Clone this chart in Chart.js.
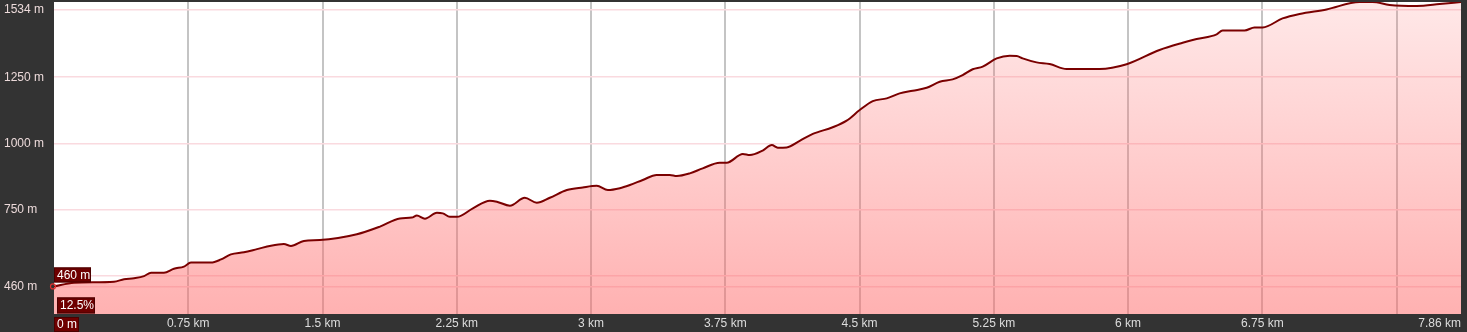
<!DOCTYPE html>
<html>
<head>
<meta charset="utf-8">
<title>Elevation profile</title>
<script src="https://cdn.jsdelivr.net/npm/chart.js@4/dist/chart.umd.min.js"></script>
<style>
  html, body { margin: 0; padding: 0; background: #333333; }
  #profile { display: block; }
</style>
</head>
<body>
<canvas id="profile" width="1467" height="332"></canvas>
<script>
// distance along the route (km) and elevation (m)
const distKm = [0, 0.112, 0.335, 0.391, 0.447, 0.503, 0.542, 0.614, 0.670, 0.726,
  0.765, 0.877, 0.933, 0.988, 1.061, 1.134, 1.212, 1.284, 1.324, 1.396,
  1.485, 1.692, 1.821, 1.932, 1.999, 2.027, 2.072, 2.139, 2.172, 2.211,
  2.251, 2.340, 2.435, 2.474, 2.547, 2.630, 2.697, 2.770, 2.865, 2.954,
  3.032, 3.094, 3.161, 3.217, 3.289, 3.367, 3.440, 3.479, 3.552, 3.624,
  3.719, 3.758, 3.848, 3.887, 3.959, 4.010, 4.043, 4.093, 4.166, 4.239,
  4.350, 4.428, 4.501, 4.574, 4.652, 4.724, 4.797, 4.875, 4.948, 5.020,
  5.076, 5.132, 5.188, 5.266, 5.339, 5.378, 5.411, 5.489, 5.562, 5.657,
  5.841, 5.992, 6.176, 6.305, 6.383, 6.495, 6.528, 6.651, 6.706, 6.752,
  6.863, 6.958, 7.109, 7.293, 7.366, 7.461, 7.612, 7.740, 7.860];

const elevM = [460, 474, 478, 487, 491, 499, 512, 512, 527, 535,
  550, 550, 562, 581, 589, 601, 614, 620, 613, 632,
  635, 657, 686, 717, 720, 728, 716, 738, 736, 723,
  723, 755, 784, 780, 765, 795, 776, 795, 824, 834,
  840, 824, 831, 843, 862, 881, 881, 877, 887, 906,
  927, 927, 960, 956, 973, 994, 984, 985, 1010, 1036,
  1061, 1086, 1126, 1160, 1170, 1189, 1199, 1210, 1233, 1242,
  1258, 1280, 1290, 1321, 1331, 1330, 1321, 1306, 1300, 1281,
  1281, 1299, 1353, 1380, 1394, 1412, 1426, 1426, 1438, 1438,
  1472, 1489, 1506, 1534, 1534, 1523, 1519, 1526, 1534];

// axis ticks
const xTickValues = [0, 0.75, 1.5, 2.25, 3, 3.75, 4.5, 5.25, 6, 6.75, 7.5, 7.86];
const xTickLabels = ['', '0.75 km', '1.5 km', '2.25 km', '3 km', '3.75 km', '4.5 km',
  '5.25 km', '6 km', '6.75 km', '', '7.86 km'];
const yTickValues = [460, 500, 750, 1000, 1250, 1505];
const yTickLabels = ['460 m', '', '750 m', '1000 m', '1250 m', '1534 m'];

// hover readout shown at the start point
const startGrade = '12.5%';

const FONT = 'Arial, "Liberation Sans", sans-serif';
Chart.defaults.font.family = FONT;
Chart.defaults.font.size = 12;

const points = distKm.map((d, i) => ({ x: d, y: elevM[i] }));

// white plot area on the dark canvas
const plotBackground = {
  id: 'plotBackground',
  beforeDraw(chart) {
    const { ctx, chartArea: a } = chart;
    ctx.save();
    ctx.fillStyle = '#ffffff';
    ctx.fillRect(a.left, a.top, a.right - a.left, a.bottom - a.top);
    ctx.restore();
  }
};

function tag(ctx, text, left, top, w, h) {
  ctx.fillStyle = '#6e0000';
  ctx.fillRect(left, top, w, h);
  ctx.strokeStyle = '#4a0000';
  ctx.lineWidth = 1;
  ctx.strokeRect(left + 0.5, top + 0.5, w - 1, h - 1);
  ctx.fillStyle = '#ffffff';
  ctx.textBaseline = 'middle';
  ctx.textAlign = 'left';
  ctx.fillText(text, left + 3, top + h / 2 + 0.5);
}

// start-point readout boxes + marker
const startReadout = {
  id: 'startReadout',
  afterDraw(chart) {
    const { ctx, scales, chartArea: a } = chart;
    const px = scales.x.getPixelForValue(distKm[0]);
    const py = scales.y.getPixelForValue(elevM[0]);
    ctx.save();
    ctx.font = '12px ' + FONT;
    tag(ctx, elevM[0] + ' m', px, py - 19, 37, 15);
    tag(ctx, startGrade, px + 3, py + 11, 38, 16);
    tag(ctx, distKm[0] + ' m', px, a.bottom + 3, 25, 15);
    ctx.strokeStyle = '#e03030';
    ctx.lineWidth = 1.2;
    ctx.beginPath();
    ctx.arc(px - 1, py, 2.5, 0, Math.PI * 2);
    ctx.stroke();
    ctx.restore();
  }
};

new Chart(document.getElementById('profile'), {
  type: 'line',
  data: {
    datasets: [{
      data: points,
      borderColor: '#7a0000',
      borderWidth: 2,
      pointRadius: 0,
      tension: 0.3,
      cubicInterpolationMode: 'monotone',
      fill: 'start',
      backgroundColor: (c) => {
        const a = c.chart.chartArea;
        if (!a) return 'rgba(255,120,120,0.4)';
        const g = c.chart.ctx.createLinearGradient(0, a.top, 0, a.bottom);
        g.addColorStop(0, 'rgba(255,110,110,0.16)');
        g.addColorStop(1, 'rgba(255,100,100,0.5)');
        return g;
      }
    }]
  },
  options: {
    responsive: false,
    animation: false,
    devicePixelRatio: 1,
    layout: { padding: { left: 4, top: 2, right: 6, bottom: 0 } },
    plugins: { legend: { display: false }, tooltip: { enabled: false } },
    scales: {
      x: {
        type: 'linear',
        min: 0,
        max: 7.86,
        afterBuildTicks: (s) => { s.ticks = xTickValues.map(v => ({ value: v })); },
        afterFit: (s) => {
          s.height = 18;
          s.paddingLeft = 0;
          s.paddingRight = 0;
        },
        border: { display: false },
        grid: {
          drawTicks: false,
          lineWidth: 2,
          color: (c) => (c.index === 0 || c.index === xTickValues.length - 1) ? 'rgba(0,0,0,0)' : '#c4c4c4'
        },
        ticks: {
          color: '#dddddd',
          padding: 2,
          align: 'inner',
          maxRotation: 0,
          autoSkip: false,
          callback: (v, i) => xTickLabels[i]
        }
      },
      y: {
        min: 356,
        max: 1534,
        afterBuildTicks: (s) => { s.ticks = yTickValues.map(v => ({ value: v })); },
        afterFit: (s) => {
          s.width = 50;
          s.paddingTop = 0;
          s.paddingBottom = 0;
        },
        border: { display: false },
        grid: { drawTicks: false, lineWidth: 1.5, color: '#fadadf' },
        ticks: {
          color: '#ecdada',
          crossAlign: 'far',
          padding: 0,
          autoSkip: false,
          callback: (v, i) => yTickLabels[i]
        }
      }
    }
  },
  plugins: [plotBackground, startReadout]
});
</script>
</body>
</html>
